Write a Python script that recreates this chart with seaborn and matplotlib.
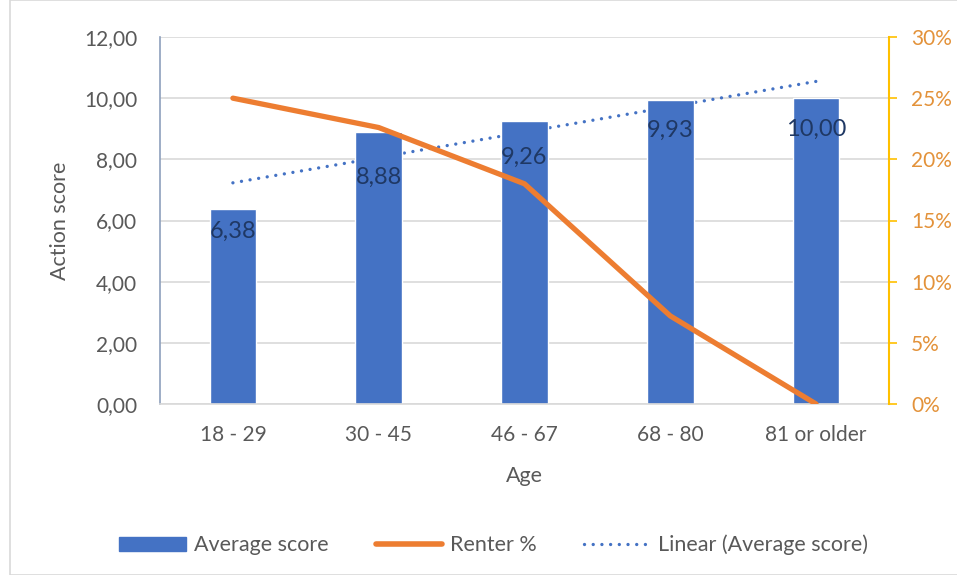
import numpy as np
import pandas as pd
import matplotlib
matplotlib.use("Agg")
import matplotlib.pyplot as plt
from matplotlib.lines import Line2D
from matplotlib.patches import Patch, Rectangle
from matplotlib.ticker import FuncFormatter, MultipleLocator
import seaborn as sns

age_groups = ["18 - 29", "30 - 45", "46 - 67", "68 - 80", "81 or older"]
average_score = [6.38, 8.88, 9.26, 9.93, 10.00]
renter_pct = [25.0, 22.6, 18.0, 7.2, 0.0]

sns.set_theme(style="white")
plt.rcParams["font.family"] = ["Lato", "DejaVu Sans"]

BLUE = "#4472C4"
ORANGE = "#ED7D31"
GOLD = "#FFC000"
TXT = "#595959"
DOTS = (0, (0.01, 2.6))
# how far below each bar top its value label sits (axis units)
LABEL_DROP = [0.75, 1.47, 1.18, 0.98, 1.01]

df = pd.DataFrame({"Age": age_groups, "score": average_score, "renter": renter_pct})

fig = plt.figure(figsize=(9.57, 5.75), dpi=100)
ax = fig.add_axes([160 / 957, 1 - 404 / 575, 729 / 957, 367 / 575])

sns.barplot(data=df, x="Age", y="score", color=BLUE, width=0.32,
            saturation=1, ax=ax, zorder=2)
ax.set_xlim(-0.5, len(age_groups) - 0.5)
ax.set_ylim(0, 12)
ax.yaxis.set_major_locator(MultipleLocator(2))
ax.yaxis.set_major_formatter(FuncFormatter(lambda v, _: f"{v:.2f}".replace(".", ",")))
ax.grid(axis="y", color="#D9D9D9", linewidth=1.2, zorder=0)
ax.set_axisbelow(True)

for i, (v, d) in enumerate(zip(average_score, LABEL_DROP)):
    ax.text(i, v - d, f"{v:.2f}".replace(".", ","), ha="center", va="center",
            fontsize=17, color="#1F3864", zorder=5)

# linear trend of the average score, drawn behind the bars
xs = np.arange(len(average_score))
slope, intercept = np.polyfit(xs, average_score, 1)
ax.plot(xs, slope * xs + intercept, linestyle=DOTS, color=BLUE,
        linewidth=2.4, dash_capstyle="round", zorder=1.5)

ax.set_xlabel("Age", fontsize=15.5, color=TXT, labelpad=15)
ax.set_ylabel("Action score", fontsize=15.5, color=TXT, labelpad=10)
ax.tick_params(axis="both", labelsize=15, colors=TXT, length=0)
ax.tick_params(axis="x", pad=15)
ax.tick_params(axis="y", pad=16.5)

for s in ["top", "right"]:
    ax.spines[s].set_visible(False)
ax.spines["left"].set_color("#8EA0BC")
ax.spines["left"].set_linewidth(1.2)
ax.spines["bottom"].set_color("#D9D9D9")
ax.spines["bottom"].set_linewidth(1.2)

ax2 = ax.twinx()
sns.lineplot(x=xs, y=renter_pct, ax=ax2, color=ORANGE, linewidth=3.8,
             solid_capstyle="round", solid_joinstyle="round", zorder=6)
ax2.set_ylim(0, 30)
ax2.yaxis.set_major_locator(MultipleLocator(5))
ax2.yaxis.set_major_formatter(FuncFormatter(lambda v, _: f"{v:.0f}%"))
ax2.tick_params(axis="y", labelsize=15, labelcolor="#E3923A", colors=GOLD,
                length=6, width=1.2, direction="out", pad=10)
for s in ["top", "left", "bottom"]:
    ax2.spines[s].set_visible(False)
ax2.spines["right"].set_color(GOLD)
ax2.spines["right"].set_linewidth(1.5)
ax2.set_ylabel("")
ax2.grid(False)

handles = [
    Patch(facecolor=BLUE, edgecolor=BLUE),
    Line2D([], [], color=ORANGE, linewidth=4, solid_capstyle="round"),
    Line2D([], [], color=BLUE, linewidth=2.4, linestyle=DOTS, dash_capstyle="round"),
]
labels = ["Average score", "Renter %", "Linear (Average score)"]
fig.legend(handles, labels, loc="center", bbox_to_anchor=(0.516, 1 - 545 / 575),
           ncol=3, frameon=False, fontsize=15.5, handlelength=3.1, handleheight=0.6,
           columnspacing=2.2, handletextpad=0.35, labelcolor=TXT)

fig.patches.append(Rectangle((10 / 957, 0), 1, 1, transform=fig.transFigure,
                             fill=False, edgecolor="#D9D9D9", linewidth=1.2))

fig.savefig("out.png", dpi=100)
